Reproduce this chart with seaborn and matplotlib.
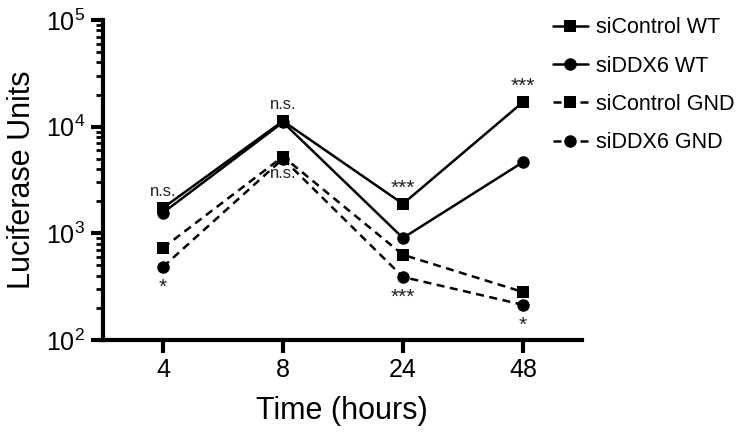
import numpy as np
import pandas as pd
import matplotlib
matplotlib.use("Agg")
import matplotlib.pyplot as plt
from matplotlib.ticker import LogLocator, FixedLocator, NullFormatter
import seaborn as sns

# -----------------------------
# Data
# -----------------------------
times = ["4", "8", "24", "48"]
si_control_wt = [1730, 11300, 1890, 17000]
si_ddx6_wt = [1560, 11000, 905, 4650]
si_control_gnd = [730, 5250, 630, 282]
si_ddx6_gnd = [485, 5000, 390, 214]
groups = ["siControl WT", "siDDX6 WT", "siControl GND", "siDDX6 GND"]

# significance labels: (time index, series used as anchor, text, above?)
sig_marks = [
    (0, "siControl WT", "n.s.", True),
    (0, "siDDX6 GND", "*", False),
    (1, "siControl WT", "n.s.", True),
    (1, "siControl GND", "n.s.", False),
    (2, "siControl WT", "***", True),
    (2, "siDDX6 GND", "***", False),
    (3, "siControl WT", "***", True),
    (3, "siDDX6 GND", "*", False),
]

series = dict(zip(groups, [si_control_wt, si_ddx6_wt, si_control_gnd, si_ddx6_gnd]))
df = pd.DataFrame({
    "time": times * 4,
    "value": si_control_wt + si_ddx6_wt + si_control_gnd + si_ddx6_gnd,
    "group": [g for g in groups for _ in times],
})

sns.set_style("ticks")
plt.rcParams["font.family"] = ["Liberation Sans", "DejaVu Sans"]
plt.rcParams["text.color"] = "black"
plt.rcParams["axes.labelcolor"] = "black"
plt.rcParams["xtick.color"] = "black"
plt.rcParams["ytick.color"] = "black"
plt.rcParams["axes.edgecolor"] = "black"

fig = plt.figure(figsize=(7.48, 4.38), dpi=100)
ax = fig.add_axes([0.1377, 0.2237, 0.640, 0.7306])

sns.lineplot(
    data=df, x="time", y="value", hue="group", style="group",
    palette={g: "black" for g in groups},
    markers={"siControl WT": "s", "siDDX6 WT": "o",
             "siControl GND": "s", "siDDX6 GND": "o"},
    dashes={"siControl WT": "", "siDDX6 WT": "",
            "siControl GND": (3.2, 2.2), "siDDX6 GND": (3.2, 2.2)},
    markersize=9, markeredgewidth=0, linewidth=1.8, ax=ax, legend=True,
)

ax.set_yscale("log")
ax.set_ylim(100, 100000)
ax.set_xlim(-0.5, 3.49)
ax.yaxis.set_major_locator(FixedLocator([1e2, 1e3, 1e4, 1e5]))
ax.set_yticklabels([r"$\mathregular{10^{2}}$", r"$\mathregular{10^{3}}$",
                    r"$\mathregular{10^{4}}$", r"$\mathregular{10^{5}}$"])
ax.yaxis.set_minor_locator(LogLocator(base=10, subs=np.arange(2, 10)))
ax.yaxis.set_minor_formatter(NullFormatter())

for side in ["top", "right"]:
    ax.spines[side].set_visible(False)
for side in ["left", "bottom"]:
    ax.spines[side].set_linewidth(3)
ax.tick_params(axis="both", which="major", length=9, width=3, labelsize=18, pad=4)
ax.tick_params(axis="y", which="minor", length=5, width=2)
ax.tick_params(axis="x", which="minor", length=0)

ax.set_xlabel("Time (hours)", fontsize=22, labelpad=10)
ax.set_ylabel("Luciferase Units", fontsize=22, labelpad=6)

# significance annotations
for idx, grp, txt, above in sig_marks:
    y = series[grp][idx]
    if "*" in txt:
        off = 11 if above else -15
        size = 15
    else:
        off = 12 if above else -12
        size = 12
    ax.annotate(txt, (idx, y), xytext=(0, off), textcoords="offset points",
                ha="center", va="center", fontsize=size, color="#222222")

handles, labels = ax.get_legend_handles_labels()
ax.legend(handles, labels, loc="upper left", bbox_to_anchor=(0.728, 0.98),
          bbox_transform=fig.transFigure, frameon=False, fontsize=15.5,
          handlelength=1.6, handletextpad=0.4, labelspacing=0.8,
          borderaxespad=0)

fig.savefig("out.png", dpi=100)
